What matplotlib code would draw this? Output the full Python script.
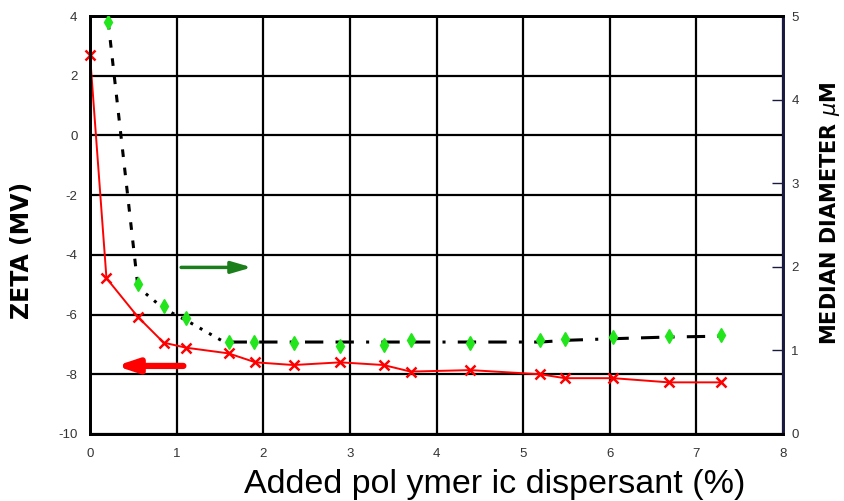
import matplotlib.pyplot as plt
import numpy as np

plt.rcParams['axes.unicode_minus'] = False

# Zeta potential (left axis) vs added dispersant
zeta_x = [0.0, 0.19, 0.55, 0.85, 1.11, 1.60, 1.91, 2.35, 2.89, 3.39,
          3.70, 4.39, 5.20, 5.48, 6.04, 6.68, 7.28]
zeta_mv = [2.7, -4.78, -6.07, -6.94, -7.11, -7.30, -7.60, -7.69, -7.60, -7.69,
           -7.91, -7.86, -8.0, -8.13, -8.13, -8.27, -8.27]

# Median diameter (right axis)
diam_x = [0.21, 0.55, 0.85, 1.11, 1.60, 1.89, 2.35, 2.89, 3.39,
          3.70, 4.39, 5.20, 5.48, 6.04, 6.68, 7.29]
diam_um = [4.93, 1.79, 1.53, 1.39, 1.10, 1.10, 1.09, 1.05, 1.06,
           1.12, 1.09, 1.12, 1.14, 1.16, 1.17, 1.19]

fig = plt.figure(figsize=(8.44, 5.01), dpi=100)
ax = fig.add_axes([90 / 844, 67 / 501, 693 / 844, 418 / 501])
ax2 = ax.twinx()

# grid
ax.set_xlim(0, 8)
ax.set_ylim(-10, 4)
ax.set_yticks(np.arange(-10, 5, 2))
ax.set_xticks(np.arange(0, 9, 1))
ax.grid(True, color='black', linewidth=1.6)
ax.set_axisbelow(True)
ax.tick_params(axis='both', length=0, labelsize=9.5, colors='#333333')
ax.tick_params(axis='x', pad=10)
ax.tick_params(axis='y', pad=9)

# fitted trend line for diameter: steep, then dotted, then long dashes
ax2.plot(diam_x[:2], diam_um[:2], color='black', linewidth=2.2,
         linestyle=(0, (2.5, 3.5)), zorder=2)
ax2.plot(diam_x[1:5], [d - 0.03 for d in diam_um[1:5]], color='black',
         linewidth=2.2, linestyle=(0, (1, 2.5)), zorder=2)
ax2.plot(diam_x[4:], [1.1] * 6 + [1.1, 1.1, 1.12, 1.14, 1.16, 1.17],
         color='black', linewidth=2.2, linestyle=(0, (6, 4, 6, 4, 1, 4)), zorder=2)
ax2.plot(diam_x, diam_um, linestyle='none', marker='d', markersize=7,
         markerfacecolor='#22e51c', markeredgecolor='#22e51c', zorder=3)
ax2.set_ylim(0, 5)
ax2.set_yticks(range(6))
ax2.tick_params(axis='y', direction='in', length=8, width=1, color='#1a1a40',
                labelsize=9.5, labelcolor='#333333', pad=6)

# zeta curve
ax.plot(zeta_x, zeta_mv, color='red', linewidth=1.4, marker='x',
        markersize=7.5, markeredgewidth=1.8, zorder=4, clip_on=False)

for a in (ax, ax2):
    for side in ('left', 'bottom', 'top'):
        a.spines[side].set_linewidth(2)
        a.spines[side].set_color('black')
    a.spines['right'].set_linewidth(2)
    a.spines['right'].set_color('#1a1a40')
    for lab in a.get_xticklabels() + a.get_yticklabels():
        lab.set_fontfamily('Liberation Sans')

# axis-indicator arrows
ax.annotate('', xy=(1.9, -4.42), xytext=(1.02, -4.42),
            arrowprops=dict(arrowstyle='-|>,head_length=1.2,head_width=0.35',
                            color='#1a7f1a', linewidth=2.5))
ax.annotate('', xy=(0.27, -7.72), xytext=(1.11, -7.72),
            arrowprops=dict(arrowstyle='-|>,head_length=1.2,head_width=0.4',
                            color='red', linewidth=4.5))

fig.text(495 / 844, 0.032, 'Added pol ymer ic dispersant (%)', fontsize=24.5,
         fontfamily='Liberation Sans', ha='center', va='center')
fig.text(0.026, 0.5, 'ZETA (MV)', rotation=90, ha='center', va='center',
         fontsize=17, fontweight='bold')
fig.text(0.984, 0.575, 'MEDIAN DIAMETER $\\mu$M', rotation=90, ha='center',
         va='center', fontsize=15, fontweight='bold')

plt.savefig('out.png', dpi=100)
